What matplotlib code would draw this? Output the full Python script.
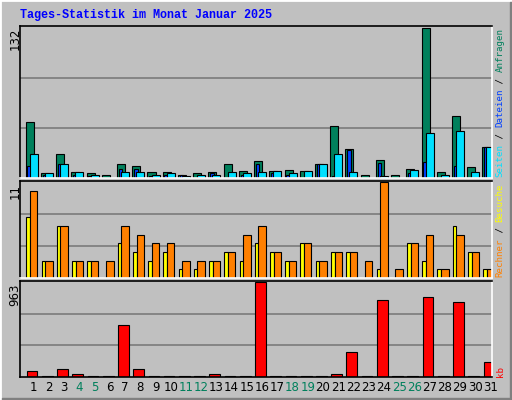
import matplotlib
matplotlib.use("Agg")
import matplotlib.pyplot as plt
from matplotlib.patches import Rectangle
import numpy as np

days = list(range(1, 32))
anfragen = [49, 4, 21, 5.5, 4, 3, 12, 11, 5, 5, 3, 4, 5, 12, 6, 15, 6, 7, 6, 12, 46, 25.5, 3, 16, 3, 8, 132, 5, 55, 10, 27]
dateien  = [11, 3, 12, 3, 2, 0, 8, 8, 2, 3, 3, 0, 4, 0, 3, 12, 4, 3, 0, 12, 2, 25, 0, 13, 0, 4, 14, 0, 11, 0, 27]
seiten   = [21, 4, 12, 5, 3, 0, 5, 5, 3, 4, 2, 3, 3, 5.5, 4, 5, 6, 4, 6, 12, 21, 5, 0, 2, 0, 7, 40, 3, 41, 5.5, 27]
besuche  = [7, 2, 6, 2, 2, 0, 4, 3, 2, 3, 1, 1, 2, 3, 2, 4, 3, 2, 4, 2, 3, 3, 0, 1, 0, 4, 2, 1, 6, 3, 1]
rechner  = [10, 2, 6, 2, 2, 2, 6, 5, 4, 4, 2, 2, 2, 3, 5, 6, 3, 2, 4, 2, 3, 3, 2, 11, 1, 4, 5, 1, 5, 3, 1]
kb       = [56, 0, 77, 28, 0, 0, 529, 77, 0, 0, 0, 0, 28, 0, 0, 963, 0, 0, 0, 0, 28, 256, 0, 781, 0, 0, 816, 0, 760, 0, 150]
weekend = {4, 5, 11, 12, 18, 19, 25, 26}
max_top, max_mid, max_bot = 132, 11, 963

BG = "#C0C0C0"
fig = plt.figure(figsize=(5.12, 4.0), dpi=100, facecolor=BG)
W, H = 512, 400
def ax_at(x0, y0, x1, y1):
    return fig.add_axes([x0 / W, 1 - y1 / H, (x1 - x0) / W, (y1 - y0) / H])

fig.patches.append(Rectangle((0, 0), 1, 1, transform=fig.transFigure, fill=False, edgecolor="white", lw=2))
fig.patches.append(Rectangle((0.004, 0.0), 0.996, 0.004, transform=fig.transFigure, color="#808080"))
fig.patches.append(Rectangle((0.996, 0.0), 0.004, 0.996, transform=fig.transFigure, color="#808080"))

x = np.array(days)
xl = (0.1, 31.1)
mono = "DejaVu Sans Mono"

def style(ax, ymax):
    ax.set_facecolor(BG)
    ax.set_xlim(*xl)
    ax.set_ylim(0, ymax * 1.015)
    ax.set_xticks([]); ax.set_yticks([])
    for g in (ymax / 3, 2 * ymax / 3):
        ax.axhline(g, color="#808080", lw=1.3, zorder=0)
    ax.spines["left"].set_color("black"); ax.spines["top"].set_color("black")
    ax.spines["right"].set_color("white"); ax.spines["bottom"].set_color("white")
    for s in ax.spines.values():
        s.set_linewidth(1.2)

u = 1 / 15.2
a1 = ax_at(20, 26, 492, 178)
style(a1, max_top)
a1.bar(x - 4 * u, anfragen, width=8 * u, color="#00805C", edgecolor="black", lw=0.8)
a1.bar(x - 4.5 * u, dateien, width=3.5 * u, color="#0040FF", edgecolor="black", lw=0.8)
a1.bar(x, seiten, width=8 * u, color="#00E0FF", edgecolor="black", lw=0.8)

a2 = ax_at(20, 181, 492, 278)
style(a2, max_mid)
a2.bar(x - 5.5 * u, besuche, width=3.6 * u, color="#FFFF00", edgecolor="black", lw=0.8)
a2.bar(x, rechner, width=7.4 * u, color="#FF8000", edgecolor="black", lw=0.8)

a3 = ax_at(20, 281, 492, 377)
style(a3, max_bot)
kbh = np.maximum(np.array(kb, float), max_bot * 0.006)
a3.bar(x - 1.6 * u, kbh, width=10.7 * u, color=["#FF0000" if v > 0 else "black" for v in kb], edgecolor="black", lw=0.8)
a3.spines["bottom"].set_color("black")

for d in days:
    a3.text(d, -0.045, str(d), transform=a3.get_xaxis_transform(), ha="center", va="top",
            fontsize=8.5, color="#00805C" if d in weekend else "black")

fig.text(20 / W, 1 - 15 / H, "Tages-Statistik im Monat Januar 2025", color="#0000FF",
         fontsize=8.5, fontweight="bold", family="Liberation Mono", va="center", ha="left")

for val, ytop in ((max_top, 28), (max_mid, 184), (max_bot, 284)):
    fig.text(15 / W, 1 - ytop / H, str(val), rotation=90, ha="center", va="top", fontsize=8.5)

FS = 6.6
CW = 0.602 * FS / 72 * 100
def side(parts, ybot):
    y = ybot
    for t, c in parts:
        fig.text(500 / W, 1 - y / H, t, rotation=90, ha="center", va="bottom", color=c,
                 fontsize=FS, family=mono, rotation_mode="anchor" if False else "default")
        y -= len(t) * CW
side([("Seiten", "#00E0FF"), (" / ", "black"), ("Dateien", "#0040FF"), (" / ", "black"), ("Anfragen", "#00805C")], 177)
side([("Rechner", "#FF8000"), (" / ", "black"), ("Besuche", "#FFFF00")], 277)
side([("kb", "#FF0000")], 377)

fig.savefig("out.png", dpi=100, facecolor=BG)
